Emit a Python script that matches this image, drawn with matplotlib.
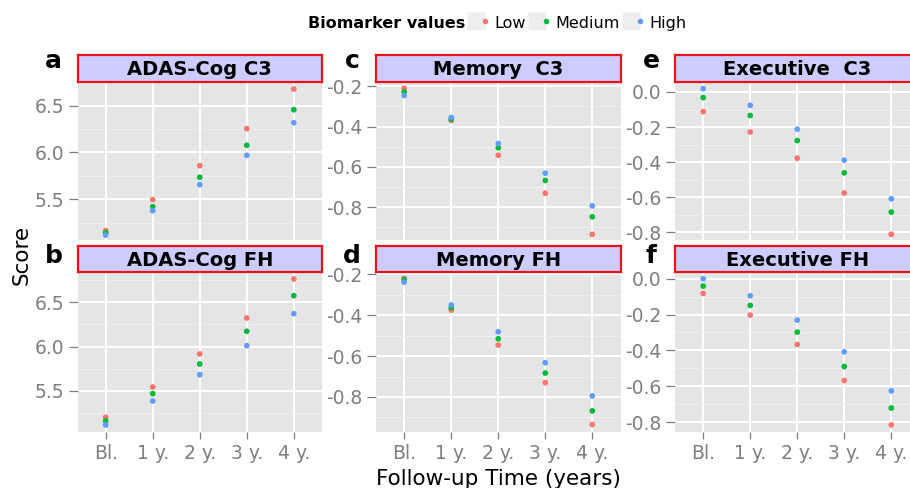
import numpy as np
import matplotlib.pyplot as plt
from matplotlib.lines import Line2D
from matplotlib.legend_handler import HandlerTuple

# Werte
time_labels = ["Bl.", "1 y.", "2 y.", "3 y.", "4 y."]
group_names = ["Low", "Medium", "High"]
group_colors = ["#F8766D", "#00BA38", "#619CFF"]

adas_c3_low = [5.165, 5.496, 5.859, 6.254, 6.678]
adas_c3_med = [5.143, 5.421, 5.735, 6.077, 6.457]
adas_c3_high = [5.118, 5.378, 5.656, 5.970, 6.318]

adas_fh_low = [5.203, 5.545, 5.917, 6.323, 6.763]
adas_fh_med = [5.162, 5.470, 5.804, 6.173, 6.574]
adas_fh_high = [5.117, 5.387, 5.684, 6.011, 6.371]

mem_c3_low = [-0.210, -0.370, -0.542, -0.730, -0.934]
mem_c3_med = [-0.228, -0.363, -0.505, -0.667, -0.847]
mem_c3_high = [-0.246, -0.355, -0.484, -0.631, -0.793]

mem_fh_low = [-0.220, -0.375, -0.546, -0.730, -0.935]
mem_fh_med = [-0.226, -0.363, -0.515, -0.683, -0.868]
mem_fh_high = [-0.238, -0.350, -0.481, -0.632, -0.795]

exe_c3_low = [-0.112, -0.228, -0.377, -0.576, -0.811]
exe_c3_med = [-0.032, -0.134, -0.277, -0.461, -0.685]
exe_c3_high = [0.019, -0.076, -0.212, -0.389, -0.609]

exe_fh_low = [-0.082, -0.203, -0.367, -0.568, -0.816]
exe_fh_med = [-0.041, -0.149, -0.298, -0.490, -0.722]
exe_fh_high = [0.000, -0.095, -0.231, -0.408, -0.626]

W, H = 910, 488
fig = plt.figure(figsize=(W / 100, H / 100), dpi=100)


def px_axes(x0, y0, x1, y1):
    return fig.add_axes([x0 / W, 1 - y1 / H, (x1 - x0) / W, (y1 - y0) / H])


cols = [(77.5, 322), (376, 620.5), (675, 919.5)]
rows = [((55, 82), (82, 240)), ((245.5, 272.3), (272.3, 431.7))]
letter_base = [68, 263]

panels = [
    # (Spalte, Zeile, Buchstabe, Titel, Reihen, ylim, Haupt-, Nebenticks, Labels)
    (0, 0, "a", "ADAS-Cog C3", [adas_c3_low, adas_c3_med, adas_c3_high],
     (5.065, 6.753), [5.5, 6.0, 6.5], [5.25, 5.75, 6.25, 6.75], ["5.5", "6.0", "6.5"]),
    (0, 1, "b", "ADAS-Cog FH", [adas_fh_low, adas_fh_med, adas_fh_high],
     (5.041, 6.838), [5.5, 6.0, 6.5], [5.25, 5.75, 6.25, 6.75], ["5.5", "6.0", "6.5"]),
    (1, 0, "c", "Memory  C3", [mem_c3_low, mem_c3_med, mem_c3_high],
     (-0.962, -0.179), [-0.8, -0.6, -0.4, -0.2], [-0.9, -0.7, -0.5, -0.3],
     ["-0.8", "-0.6", "-0.4", "-0.2"]),
    (1, 1, "d", "Memory FH", [mem_fh_low, mem_fh_med, mem_fh_high],
     (-0.970, -0.190), [-0.8, -0.6, -0.4, -0.2], [-0.9, -0.7, -0.5, -0.3],
     ["-0.8", "-0.6", "-0.4", "-0.2"]),
    (2, 0, "e", "Executive  C3", [exe_c3_low, exe_c3_med, exe_c3_high],
     (-0.844, 0.057), [-0.8, -0.6, -0.4, -0.2, 0.0], [-0.7, -0.5, -0.3, -0.1],
     ["-0.8", "-0.6", "-0.4", "-0.2", "0.0"]),
    (2, 1, "f", "Executive FH", [exe_fh_low, exe_fh_med, exe_fh_high],
     (-0.854, 0.036), [-0.8, -0.6, -0.4, -0.2, 0.0], [-0.7, -0.5, -0.3, -0.1],
     ["-0.8", "-0.6", "-0.4", "-0.2", "0.0"]),
]

x = np.arange(len(time_labels))
grey = "#7F7F7F"

for col, row, letter, title, series, ylim, majors, minors, ylabels in panels:
    x0, x1 = cols[col]
    (sy0, sy1), (py0, py1) = rows[row]

    ax = px_axes(x0, py0, x1, py1)
    ax.set_facecolor("#E5E5E5")
    for vals, c in zip(series, group_colors):
        ax.scatter(x, vals, s=17, color=c, edgecolors="none", zorder=3)
    ax.set_xlim(-0.6, 4.6)
    ax.set_ylim(*ylim)
    ax.set_yticks(majors)
    ax.set_yticklabels(ylabels)
    ax.set_yticks(minors, minor=True)
    ax.set_xticks(x)
    ax.grid(True, which="major", color="white", lw=1.4)
    ax.grid(True, which="minor", axis="y", color="#F2F2F2", lw=0.6)
    ax.set_axisbelow(True)
    for s in ax.spines.values():
        s.set_visible(False)
    ax.tick_params(axis="y", which="major", length=6.5, width=0.9, color=grey,
                   labelcolor=grey, labelsize=13.5, pad=3)
    ax.tick_params(axis="y", which="minor", length=0)
    if row == 1:
        ax.set_xticklabels(time_labels)
        ax.tick_params(axis="x", length=5, width=0.9, color=grey,
                       labelcolor=grey, labelsize=13.5, pad=3.5)
    else:
        ax.tick_params(axis="x", length=0, labelbottom=False)

    # Streifen mit Titel
    sax = px_axes(x0, sy0, x1, sy1)
    sax.set_facecolor("#CCCCFF")
    sax.set_xticks([])
    sax.set_yticks([])
    for s in sax.spines.values():
        s.set_color("#E8141B")
        s.set_linewidth(1.6)
    sax.text(0.5, 0.45, title, ha="center", va="center", fontsize=14,
             fontweight="bold", transform=sax.transAxes)

    fig.text((x0 - 24) / W, 1 - letter_base[row] / H, letter, ha="center",
             va="baseline", fontsize=18, fontweight="bold")

fig.text(22 / W, 1 - 255 / H, "Score", rotation=90, ha="center", va="center", fontsize=15.5)
fig.text(498 / W, 1 - 485 / H, "Follow-up Time (years)", ha="center", va="baseline",
         fontsize=15.5)

# Legende oben
fig.text(465 / W, 1 - 23 / H, "Biomarker values", ha="right", va="center",
         fontsize=11.5, fontweight="bold")
handles = []
for c in group_colors:
    key = Line2D([], [], marker="s", linestyle="", markersize=13.5,
                 markerfacecolor="#EEEEEE", markeredgecolor="none")
    dot = Line2D([], [], marker="o", linestyle="", markersize=4,
                 markerfacecolor=c, markeredgecolor="none")
    handles.append((key, dot))
fig.legend(handles, group_names, handler_map={tuple: HandlerTuple(ndivide=None)},
           ncol=3, loc="center left", bbox_to_anchor=(471 / W, 1 - 23 / H),
           frameon=False, fontsize=11.5, handlelength=1.2, handleheight=1.25,
           handletextpad=0.25, columnspacing=0.4, borderpad=0, borderaxespad=0)

fig.savefig("out.png", dpi=100)
